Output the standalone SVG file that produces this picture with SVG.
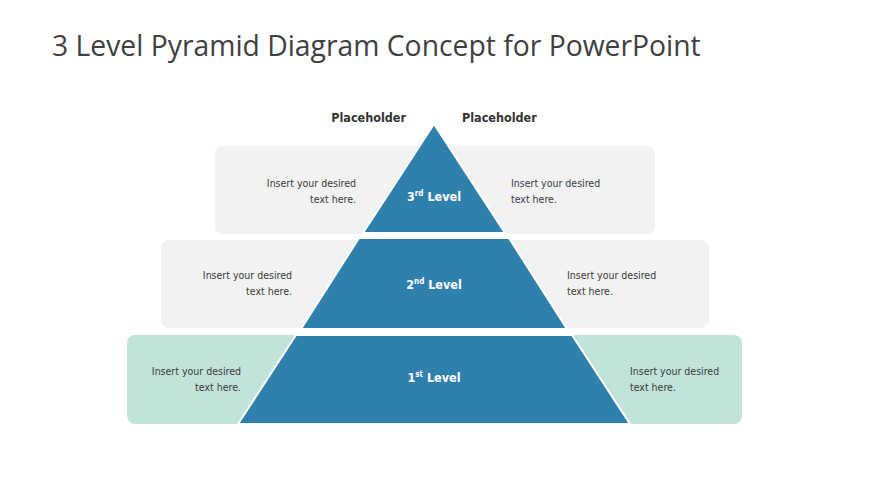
<svg xmlns="http://www.w3.org/2000/svg" width="870" height="489" viewBox="0 0 870 489">
<style>
.g{fill:#f2f2f2}.t{fill:#c2e3da}.p{fill:#2f80ad;stroke:#fff;stroke-width:2}
.d{font-family:"DejaVu Sans",sans-serif;font-stretch:condensed;font-size:10.5px;fill:#3a3a3a}
.h{font-family:"DejaVu Sans",sans-serif;font-stretch:condensed;font-weight:bold;font-size:12.5px;fill:#333}
.l{font-family:"DejaVu Sans",sans-serif;font-stretch:condensed;font-weight:bold;font-size:12.5px;fill:#fff;text-anchor:middle}
.r{text-anchor:end}
</style>
<rect width="870" height="489" fill="#fff"/>
<text x="52" y="56" font-family="Open Sans,sans-serif" font-size="28.3" fill="#404040">3 Level Pyramid Diagram Concept for PowerPoint</text>
<text class="h" x="406" y="122" text-anchor="end">Placeholder</text>
<text class="h" x="462" y="122">Placeholder</text>
<g id="tier3">
<rect class="g" x="215" y="146" width="440" height="88" rx="8"/>
<polygon class="p" points="434,124 505,233 363,233"/>
<text class="d r" x="356" y="187">Insert your desired</text><text class="d r" x="356" y="203">text here.</text>
<text class="d" x="511" y="187">Insert your desired</text><text class="d" x="511" y="203">text here.</text>
<text class="l" x="434" y="201">3<tspan font-size="8" dy="-5">rd</tspan><tspan dy="5"> Level</tspan></text>
</g>
<g id="tier2">
<rect class="g" x="161" y="240" width="548" height="88" rx="8"/>
<polygon class="p" points="359,238 509,238 567,329 301,329"/>
<text class="d r" x="292" y="279">Insert your desired</text><text class="d r" x="292" y="295">text here.</text>
<text class="d" x="567" y="279">Insert your desired</text><text class="d" x="567" y="295">text here.</text>
<text class="l" x="434" y="289">2<tspan font-size="8" dy="-5">nd</tspan><tspan dy="5"> Level</tspan></text>
</g>
<g id="tier1">
<rect class="t" x="127" y="335" width="615" height="89" rx="8"/>
<polygon class="p" points="296,335 572,335 630,424 238,424"/>
<text class="d r" x="241" y="375">Insert your desired</text><text class="d r" x="241" y="391">text here.</text>
<text class="d" x="630" y="375">Insert your desired</text><text class="d" x="630" y="391">text here.</text>
<text class="l" x="434" y="382">1<tspan font-size="8" dy="-5">st</tspan><tspan dy="5"> Level</tspan></text>
</g>
<g id="connectors"/>
</svg>
